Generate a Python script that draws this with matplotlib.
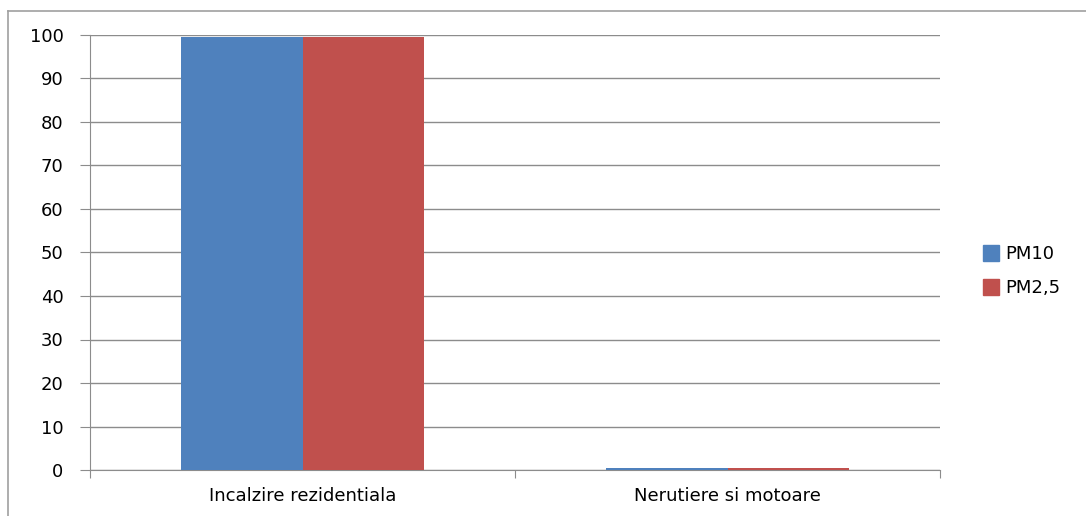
import matplotlib.pyplot as plt
import numpy as np
from matplotlib.lines import Line2D

# %% Data
categories = ['Incalzire rezidentiala', 'Nerutiere si motoare']
pm10 = [99.5, 0.4]
pm25 = [99.5, 0.4]
series_names = ['PM10', 'PM2,5']
yticks = [0, 10, 20, 30, 40, 50, 60, 70, 80, 90, 100]

# %% Style
plt.rcParams['font.family'] = ['DejaVu Sans']
blue = '#4f81bd'
red = '#c0504d'
grid_col = '#8c8c8c'
fsize = 13

fig = plt.figure(figsize=(10.86, 5.16), dpi=100)
ax = fig.add_axes([90/1086, 1-470/516, 850/1086, 435/516])

x = np.arange(len(categories))
w = 0.286
ax.bar(x - w/2, pm10, width=w, color=blue, label=series_names[0], zorder=3)
ax.bar(x + w/2, pm25, width=w, color=red, label=series_names[1], zorder=3)

ax.set_xlim(-0.5, 1.5)
ax.set_ylim(0, 100)
ax.set_yticks(yticks)
ax.set_yticklabels([str(t) for t in yticks], fontsize=fsize)
ax.yaxis.grid(True, color=grid_col, lw=1.0, zorder=0)
ax.set_axisbelow(True)

#Category ticks on the boundaries, labels centred
ax.set_xticks([-0.5, 0.5, 1.5])
ax.set_xticklabels([])
ax.set_xticks(x, minor=True)
ax.set_xticklabels(categories, minor=True, fontsize=fsize)
ax.tick_params(axis='x', which='minor', length=0, pad=12)
ax.tick_params(axis='x', which='major', length=6, color=grid_col, direction='out')
ax.tick_params(axis='y', length=7, color=grid_col, direction='out', pad=12)

for s in ['top', 'right']:
    ax.spines[s].set_visible(False)
ax.spines['left'].set_color(grid_col)
ax.spines['bottom'].set_color(grid_col)

#Legend
handles = [Line2D([], [], marker='s', ls='', color=blue, markersize=11),
           Line2D([], [], marker='s', ls='', color=red, markersize=11)]
fig.legend(handles, series_names, loc='center left', bbox_to_anchor=(964/1086, 1-271/516),
           frameon=False, fontsize=fsize, handletextpad=0.2, labelspacing=0.9, handlelength=1.2)

#Chart area border (top and left)
fig.add_artist(Line2D([8/1086, 8/1086], [0, 1-10.5/516], color='#a0a0a0', lw=1.2,
                      transform=fig.transFigure))
fig.add_artist(Line2D([8/1086, 1], [1-10.5/516, 1-10.5/516], color='#a0a0a0', lw=1.2,
                      transform=fig.transFigure))

fig.savefig('out.png', dpi=100, facecolor='white')
